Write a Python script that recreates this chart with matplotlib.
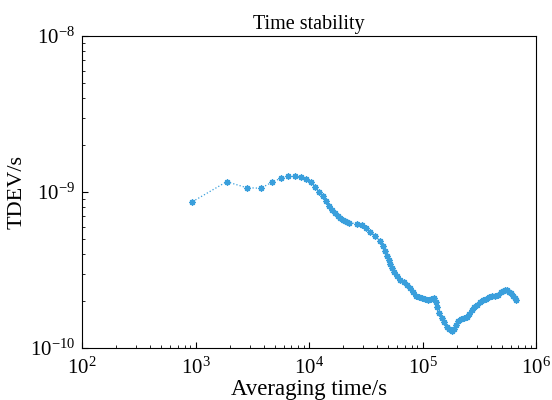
import numpy as np
import matplotlib
matplotlib.use("Agg")
from matplotlib import pyplot as plt
from matplotlib.ticker import LogLocator, NullFormatter

# averaging time (s) and time deviation (s)
tau = [940, 1880, 2820, 3760, 4700, 5640, 6580, 7520, 8460, 9400,
       10340, 11280, 12220, 13160, 14100, 15040, 15980, 16920, 17860, 18800,
       19740, 20680, 21620, 22560, 26360, 29190, 31850, 34540, 38230, 42330,
       44990, 46860, 48800, 50310, 51870, 54030, 56270, 59210, 63580, 68270,
       73290, 77870, 82770, 87990, 93520, 99400, 105640, 112290, 119370, 125600,
       130800, 134850, 140450, 147730, 155400, 163540, 172070, 180990, 190460, 198420,
       206640, 219630, 233410, 245530, 258350, 271830, 285980, 303950, 323050, 343340,
       364930, 387820, 412220, 438130, 465600, 494960, 515500, 537000, 559300, 582500,
       606800, 631900, 651400, 664700]
tdev = [8.67e-10, 1.164e-9, 1.066e-9, 1.057e-9, 1.154e-9, 1.225e-9, 1.268e-9, 1.263e-9, 1.248e-9, 1.211e-9,
        1.159e-9, 1.084e-9, 1.0e-9, 9.42e-10, 8.76e-10, 8.19e-10, 7.72e-10, 7.34e-10, 7.02e-10, 6.81e-10,
        6.65e-10, 6.52e-10, 6.42e-10, 6.33e-10, 6.28e-10, 6.10e-10, 5.88e-10, 5.58e-10, 5.22e-10, 4.85e-10,
        4.51e-10, 4.19e-10, 3.89e-10, 3.66e-10, 3.45e-10, 3.26e-10, 3.07e-10, 2.89e-10, 2.73e-10, 2.65e-10,
        2.53e-10, 2.41e-10, 2.27e-10, 2.17e-10, 2.11e-10, 2.09e-10, 2.06e-10, 2.03e-10, 2.06e-10, 2.08e-10,
        1.97e-10, 1.83e-10, 1.68e-10, 1.56e-10, 1.46e-10, 1.37e-10, 1.32e-10, 1.29e-10, 1.33e-10, 1.41e-10,
        1.49e-10, 1.53e-10, 1.56e-10, 1.59e-10, 1.66e-10, 1.74e-10, 1.83e-10, 1.90e-10, 1.96e-10, 2.02e-10,
        2.06e-10, 2.11e-10, 2.14e-10, 2.17e-10, 2.20e-10, 2.27e-10, 2.32e-10, 2.37e-10, 2.35e-10, 2.30e-10,
        2.25e-10, 2.17e-10, 2.08e-10, 2.02e-10]

plt.rcParams["font.family"] = ["Liberation Serif", "DejaVu Serif"]
plt.rcParams["mathtext.fontset"] = "stix"

fig = plt.figure(figsize=(5.52, 4.0), dpi=100)
ax = fig.add_axes([0.1486, 0.13, 0.8225, 0.78])

ax.plot(tau, tdev, color="#3a9fdc", linestyle=":", linewidth=0.9,
        marker=(8, 2, 0), markersize=4.5, markeredgewidth=1.0)

ax.set_xscale("log")
ax.set_yscale("log")
ax.set_xlim(1e2, 1e6)
ax.set_ylim(1e-10, 1e-8)

ax.xaxis.set_minor_locator(LogLocator(base=10, subs=np.arange(2, 10)))
ax.yaxis.set_minor_locator(LogLocator(base=10, subs=np.arange(2, 10)))
ax.xaxis.set_minor_formatter(NullFormatter())
ax.yaxis.set_minor_formatter(NullFormatter())
ax.tick_params(which="both", direction="in", top=False, right=False, labelsize=15)
ax.tick_params(axis="x", which="major", pad=7)
ax.tick_params(axis="y", which="major", pad=5)
ax.tick_params(which="major", length=4, width=0.8)
ax.tick_params(which="minor", length=2.5, width=0.6)

ax.set_title("Time stability", fontsize=14.5, pad=5)
ax.set_xlabel("Averaging time/s", fontsize=16.5, labelpad=0)
ax.set_ylabel("TDEV/s", fontsize=16, labelpad=2)

plt.savefig("out.png", dpi=100)
